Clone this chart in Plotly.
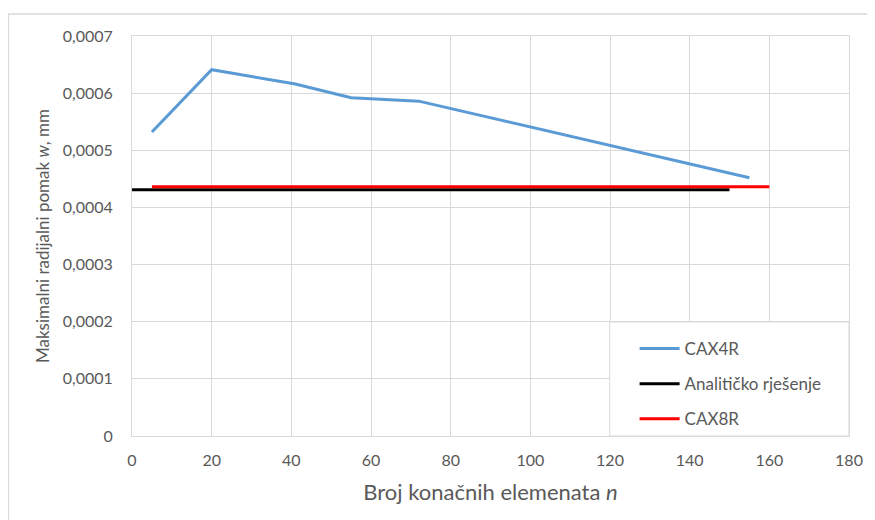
import plotly.graph_objects as go

# Data
cax4r_n = [5, 20, 41, 55, 72, 155]
cax4r_w = [0.000532, 0.000641, 0.000616, 0.000592, 0.000586, 0.000452]

analit_n = [0, 150]
analit_w = [0.000431, 0.000431]

cax8r_n = [5, 160]
cax8r_w = [0.000436, 0.000436]

y_tickvals = [0, 0.0001, 0.0002, 0.0003, 0.0004, 0.0005, 0.0006, 0.0007]
y_ticktext = ["0", "0,0001", "0,0002", "0,0003", "0,0004", "0,0005", "0,0006", "0,0007"]
x_tickvals = [0, 20, 40, 60, 80, 100, 120, 140, 160, 180]

FONT = "Lato"
GREY = "#595959"
GRID = "#d9d9d9"

fig = go.Figure()
fig.add_trace(go.Scatter(x=cax4r_n, y=cax4r_w, mode="lines", name="CAX4R",
                         line=dict(color="#5b9bd5", width=3), legendgroup="a"))
fig.add_trace(go.Scatter(x=analit_n, y=analit_w, mode="lines", name="Analitičko rješenje",
                         line=dict(color="#000000", width=3), legendgroup="b"))
fig.add_trace(go.Scatter(x=cax8r_n, y=cax8r_w, mode="lines", name="CAX8R",
                         line=dict(color="#ff0000", width=3), legendgroup="c"))

OFF = 8  # page body margin
W, H = 875 - OFF, 520 - OFF
L, R, T, B = 132 - OFF, 24, 36 - OFF, 84
pw, ph = W - L - R, H - T - B


def px(xp):
    return (xp - OFF - L) / pw


def py(yp):
    return (H - B - (yp - OFF)) / ph


fig.update_layout(
    width=W, height=H,
    margin=dict(l=L, r=R, t=T, b=B),
    paper_bgcolor="white", plot_bgcolor="white",
    font=dict(family=FONT, size=16, color=GREY),
    showlegend=True,
    legend=dict(x=px(636), y=py(331), xanchor="left", yanchor="top",
                bgcolor="rgba(0,0,0,0)", borderwidth=0,
                font=dict(size=17, color=GREY), tracegroupgap=10,
                traceorder="grouped", itemwidth=40),
    xaxis=dict(range=[0, 180], tickvals=x_tickvals, showgrid=True, gridcolor=GRID,
               gridwidth=1, zeroline=False, showline=True, linecolor=GRID, mirror=True,
               ticks="", ticklabelstandoff=10, tickfont=dict(size=16, color=GREY),
               title=dict(text="Broj konačnih elemenata <i>n</i>", font=dict(size=22, color=GREY),
                          standoff=16)),
    yaxis=dict(range=[0, 0.0007], tickvals=y_tickvals, ticktext=y_ticktext, showgrid=True,
               gridcolor=GRID, gridwidth=1, zeroline=False, showline=True, linecolor=GRID,
               mirror=True, ticks="", ticklabelstandoff=15, tickfont=dict(size=16, color=GREY),
               title=dict(text="Maksimalni radijalni pomak <i>w</i>, mm",
                          font=dict(size=17, color=GREY), standoff=8)),
    shapes=[
        dict(type="rect", xref="paper", yref="paper",
             x0=px(8), x1=px(890), y0=py(540), y1=py(14),
             line=dict(color=GRID, width=1.5), fillcolor="rgba(0,0,0,0)", layer="below"),
        dict(type="rect", xref="paper", yref="paper",
             x0=px(611), x1=px(851), y0=py(436), y1=py(322),
             line=dict(color=GRID, width=1), fillcolor="white", layer="above"),
    ],
)

fig.write_html("out.html")
